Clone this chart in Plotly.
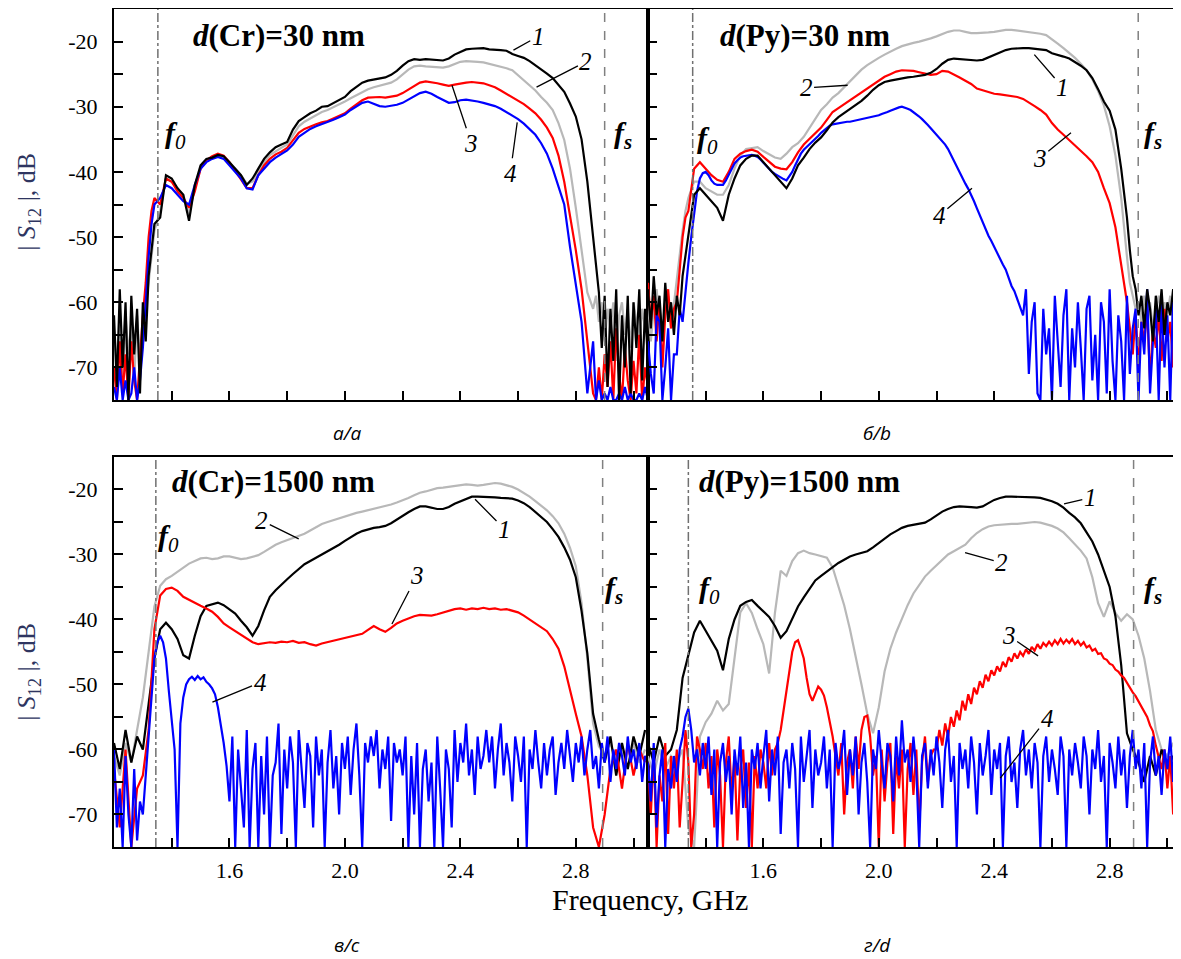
import numpy as np
import plotly.graph_objects as go
from plotly.subplots import make_subplots

# --- frequency sweeps, GHz ---
F_COARSE = np.round(np.arange(1.20, 3.045, 0.02), 2)   # 93 points
F_FINE = np.round(np.arange(1.20, 3.055, 0.01), 2)     # 186 points
# denser at the noisy band edges, coarse in the pass band (110 points)
F_MIX = np.round(np.concatenate([np.arange(1.20, 1.335, 0.01),
                                 np.arange(1.34, 2.865, 0.02),
                                 np.arange(2.87, 3.055, 0.01)]), 2)

# --- panel a: d(Cr)=30 nm, |S12| in dB on F_MIX ---
A1 = [-62, -73, -58, -70, -60, -75, -59, -68, -61, -74, -60, -66, -56, -52,
      -48, -47, -40.5,
      -41, -42.5, -43.5, -47.5, -42, -39, -38, -37.8, -37.4, -37.6,
      -38.5, -39.5, -40.5, -42, -41, -39.5, -38, -37, -36.2, -35.8,
      -35.4, -33.5, -32.2, -31.6, -31, -30.6, -30, -29.9, -29.4, -28.9,
      -28.5, -27.6, -26.9, -26.3, -26, -25.8, -25.6, -25.5, -25.1, -24.5,
      -23.7, -23, -22.7, -22.8, -22.7, -22.8, -22.9, -22.9, -22.6, -22,
      -21.6, -21.2, -21.1, -21, -21, -21.2, -21.2, -21.3, -21.4, -21.9,
      -22.2, -22.5, -23, -23.6, -24.2, -24.9, -25.6, -26.6, -27.7, -29.5,
      -31.5, -35, -41.5, -50,
      -54, -58.5, -67, -59, -73, -61, -69, -58, -75, -62,
      -70, -59, -74, -60, -67, -58, -72, -61, -69]
A2 = [-64, -70, -61, -74, -62, -68, -63, -72, -62, -69, -66, -60, -57, -53,
      -49, -46, -41,
      -41.5, -42.5, -43.5, -46.5, -42.5, -39.5, -38.2, -37.8, -37.5, -37.8,
      -38.8, -39.5, -40.5, -41.8, -41.5, -40, -38.5, -37.4, -36.8, -36.3,
      -35.8, -34.3, -33, -32.3, -31.8, -31.3, -30.8, -30.5, -30.1, -29.6,
      -29.2, -28.7, -28.2, -27.7, -27.3, -27, -26.8, -26.6, -26.3, -25.8,
      -25, -24.3, -23.8, -23.7, -23.8, -23.9, -24, -24, -23.8, -23.4,
      -23.1, -23, -23, -23.1, -23.2, -23.4, -23.6, -23.8, -24.1, -24.4,
      -25.2, -25.9, -26.7, -27.5, -28.5, -29.4, -30.5, -32.5, -35.1, -39.5,
      -45.5, -52, -58.5, -61,
      -59, -63, -60, -66, -61, -64, -60, -69, -62, -60,
      -65, -61, -67, -60, -63, -66, -61, -64, -60]
A3 = [-70, -75, -66, -74, -68, -75, -66, -72, -75, -68, -62, -57, -50, -46,
      -44, -45, -41,
      -41.5, -43, -44, -45.5, -43, -39.5, -38.2, -37.6, -37.2, -37.5,
      -38.5, -39.8, -41, -42.5, -42.5, -40.5, -39, -38, -37.3, -36.9,
      -36.3, -35.2, -34, -33.4, -33, -32.7, -32.4, -32.2, -31.8, -31.4,
      -31, -30.3, -29.6, -29, -28.6, -28.5, -28.5, -28.6, -28.5, -28.3,
      -27.9, -27.4, -26.8, -26.3, -26.1, -26.2, -26.4, -26.6, -26.8, -26.6,
      -26.4, -26.3, -26.2, -26.3, -26.4, -26.7, -27, -27.5, -28, -28.5,
      -29, -29.6, -30.3, -31, -32, -33.2, -34.8, -37.5, -41.5, -46.5,
      -52, -58, -66, -74,
      -75, -70, -75, -68, -73, -66, -75, -64, -71, -75,
      -67, -72, -75, -69, -74, -65, -75, -70, -73]
A4 = [-73, -75, -70, -75, -72, -75, -74, -70, -75, -72, -67, -60, -53, -48,
      -45, -44, -42,
      -42.5, -43.5, -44.5, -45, -42, -39.5, -38.5, -38, -37.7, -38,
      -39, -40, -41, -42.5, -42.7, -40.5, -39.5, -38.5, -37.8, -37.3,
      -36.7, -35.8, -34.6, -34, -33.4, -33, -32.7, -32.4, -32, -31.6,
      -31.2, -30.5, -29.9, -29.4, -29.2, -29.5, -29.9, -30, -29.9, -29.7,
      -29.4, -28.9, -28.3, -27.9, -27.7, -28, -28.5, -29, -29.4, -29.3,
      -29, -28.9, -29, -29.2, -29.4, -29.6, -29.9, -30.3, -30.8, -31.3,
      -31.9, -32.6, -33.4, -34.3, -35.6, -37.2, -39.5, -42.3, -45, -51.5,
      -57, -63, -74, -66,
      -75, -72, -75, -74, -75, -73, -75, -75, -74, -75,
      -73, -75, -74, -75, -75, -74, -75, -73, -75]

# --- panel b: d(Py)=30 nm (curves 1-3 on F_MIX, curve 4 on F_FINE) ---
B1 = [-58, -64, -56, -62, -59, -66, -57, -63, -60, -65, -59, -62, -56, -53,
      -50, -43.5, -42.5,
      -43.5, -44.5, -45.5, -47.5, -43.5, -41, -39, -38, -37.5, -37.5,
      -38.5, -39.5, -40.5, -41.5, -42.5, -41, -39, -37.8, -36.5, -35.5,
      -34.7, -33.6, -32.4, -31.6, -31, -30.4, -29.8, -29.1, -28.3, -27.4,
      -26.7, -26.2, -26, -25.8, -25.6, -25.5, -25.4, -25.3, -25.1, -24.8,
      -24.2, -23.4, -22.8, -22.6, -22.7, -22.8, -22.8, -22.9, -22.8, -22.4,
      -22, -21.6, -21.3, -21.1, -21, -21, -21, -21.1, -21.1, -21.3,
      -21.8, -22, -22.3, -22.6, -23.1, -23.7, -24.4, -25.6, -27.3, -29.2,
      -30.6, -33.5, -39.5, -47,
      -52, -56, -58, -62, -59, -64, -58, -61, -66, -59,
      -63, -58, -65, -60, -62, -58, -64, -60, -63]
B2 = [-60, -66, -61, -58, -63, -65, -61, -59, -64, -60, -57, -53, -49, -46,
      -44, -41.5, -41.5,
      -42.5, -43, -43.5, -43.5, -42, -39.5, -37.5, -36.5, -36.3, -36.2,
      -36.8, -37.3, -37.8, -38, -37.2, -36.2, -35.6, -34.6, -33.2, -31.8,
      -30.5, -29.6, -28.6, -27.9, -27, -26.2, -25.3, -24.3, -23.6, -23,
      -22.5, -22, -21.5, -21.1, -20.7, -20.4, -20.2, -20, -19.8, -19.5,
      -19.2, -18.8, -18.5, -18.3, -18.3, -18.5, -18.7, -18.7, -18.7, -18.6,
      -18.5, -18.3, -18.2, -18.2, -18.3, -18.4, -18.5, -18.6, -18.8, -19,
      -19.6, -20.3, -21, -21.7, -22.5, -23.4, -24.4, -25.8, -27.6, -29.8,
      -33, -37.5, -44, -53,
      -57, -59, -61, -60, -63, -59, -62, -60, -64, -61,
      -59, -63, -60, -62, -59, -64, -61, -60, -62]
B3 = [-57, -63, -59, -66, -60, -70, -62, -58, -64, -61, -60, -55, -50, -47,
      -46, -39.5, -38.5,
      -39.5, -40.5, -41.2, -41.5, -40, -38, -37.2, -36.8, -36.6, -36.9,
      -37.7, -38.5, -39.2, -39.5, -39.6, -38.5, -37, -35.8, -34.9, -34,
      -33.2, -32, -30.8, -30.2, -29.6, -29, -28.4, -27.7, -27.1, -26.5,
      -25.9, -25.4, -25, -24.6, -24.4, -24.4, -24.5, -24.7, -24.9, -25.1,
      -25, -24.5, -24.6, -25, -25.5, -26, -26.5, -27.2, -27.5, -27.8,
      -28, -28.1, -28.2, -28.4, -28.5, -28.8, -29.3, -29.9, -30.5, -31.2,
      -32.5, -33.5, -34.3, -35.1, -35.9, -36.8, -37.6, -38.5, -40, -42.5,
      -44.8, -48.5, -54.5, -60,
      -64, -68, -62, -70, -63, -66, -61, -72, -64, -67,
      -62, -69, -61, -66, -63, -70, -62, -65, -68]
B4 = [-66, -71, -74, -62, -63, -75, -70, -64, -75, -68,
      -68, -61, -63, -58, -54, -50, -46, -43, -41, -40.2,
      -40, -40.5, -41.3, -41.8, -42, -42, -42, -41.3, -40.5, -39.6,
      -38.7, -38.2, -37.8, -37.6, -37.5, -37.4, -37.4, -37.5, -37.7, -38.1,
      -38.6, -39.1, -39.5, -40, -40.3, -40.6, -40.9, -41.1, -41.3, -40.7,
      -40, -39, -38, -37.2, -36.6, -36.2, -35.8, -35.4, -35, -34.5,
      -34, -33.6, -33.2, -32.9, -32.7, -32.6, -32.5, -32.4, -32.4, -32.3,
      -32.3, -32.2, -32.1, -32, -32, -31.9, -31.8, -31.7, -31.5, -31.4,
      -31.3, -31.1, -31, -30.8, -30.6, -30.4, -30.2, -30.1, -30, -30.1,
      -30.3, -30.5, -30.8, -31.1, -31.5, -31.9, -32.3, -32.8, -33.3, -33.8,
      -34.3, -34.7, -35.2, -35.8, -36.5, -37.4, -38.3, -39.2, -40.2, -41,
      -41.8, -42.6, -43.5, -44.5, -45.6, -46.7, -47.8, -48.8, -49.8, -50.6,
      -51.5, -52.5, -53.5, -54.2, -55, -56.3, -57.5, -58.3, -59.5, -60.5,
      -62, -58, -71, -63, -60, -74, -75, -61, -68, -64,
      -75, -59, -66, -73, -62, -58, -75, -64, -70, -60,
      -67, -75, -61, -59, -72, -65, -75, -60, -63, -74,
      -58, -69, -75, -62, -66, -75, -59, -71, -64, -61,
      -75, -63, -68, -58, -74, -66, -61, -75, -60, -70,
      -62, -75, -59, -67, -73, -61]

# --- panel c: d(Cr)=1500 nm (curves 1-3 on F_COARSE, curve 4 on F_FINE) ---
C1 = [-59, -63, -57, -62, -58, -60, -53, -46, -41.5, -40.5,
      -41.5, -43, -45.5, -46, -42.5, -39.5, -37.9, -37.6, -37.4, -37.8,
      -38.4, -39.1, -40.2, -41.2, -42.5, -41, -38.6, -36.5, -35.5, -34.6,
      -33.8, -33, -32.2, -31.5, -31, -30.5, -30, -29.6, -29.1, -28.5,
      -27.9, -27.3, -26.8, -26.4, -26.1, -25.9, -25.8, -25.6, -25.2, -24.6,
      -24.1, -23.5, -23, -22.6, -22.6, -22.8, -23, -23, -22.7, -22.2,
      -21.8, -21.4, -21.1, -21.1, -21.1, -21.2, -21.2, -21.3, -21.3, -21.4,
      -21.7, -22.1, -22.7, -23.5, -24.2, -25, -26.1, -27.3, -28.9, -30.8,
      -33.5, -38.7, -45.2, -54.5, -58.5, -62, -58, -64, -59, -63,
      -58, -61, -57]
C2 = [-61, -64, -59, -62, -57, -52, -45, -38, -34.8, -33.8,
      -33.3, -32.7, -32, -31.4, -31, -30.6, -30.5, -30.7, -30.6, -30.3,
      -30.3, -30.5, -30.7, -30.6, -30.4, -30.1, -29.6, -29, -28.5, -28.1,
      -27.8, -27.5, -27.2, -26.8, -26.3, -25.8, -25.3, -25, -24.7, -24.5,
      -24.2, -23.9, -23.6, -23.4, -23.2, -23, -22.8, -22.6, -22.3, -22,
      -21.7, -21.3, -20.9, -20.5, -20.3, -20, -19.8, -19.7, -19.6, -19.4,
      -19.3, -19.2, -19.3, -19.4, -19.3, -19.1, -19, -19.1, -19.3, -19.6,
      -20, -20.5, -21.1, -21.8, -22.5, -23.2, -24.1, -25.2, -26.8, -29,
      -31.8, -37.5, -46, -56, -59.5, -61, -59, -62, -60, -63,
      -59, -62, -60]
C3 = [-63, -72, -60, -75, -66, -64, -57, -41.5, -36.3, -35.3,
      -35.1, -35.6, -36.5, -37, -37.5, -37.9, -38.3, -38.8, -39.6, -40.6,
      -41.2, -41.8, -42.4, -43, -43.5, -43.8, -43.6, -43.5, -43.6, -43.4,
      -43.5, -43.3, -43.6, -43.5, -43.8, -44, -43.7, -43.5, -43.2, -43,
      -42.9, -42.7, -42.5, -42.2, -41.6, -41, -41.5, -41.9, -41.3, -40.6,
      -40.2, -39.8, -39.5, -39.3, -39.3, -39.4, -39.2, -38.9, -38.6, -38.4,
      -38.3, -38.5, -38.3, -38.4, -38.2, -38.4, -38.3, -38.5, -38.4, -38.6,
      -38.9, -39.4, -40, -40.5, -41.2, -41.8, -43, -44.5, -47.2, -51,
      -54.5, -58, -64, -72, -75, -70, -63, -60, -66, -59,
      -64, -60, -62]
C4 = [-60, -72, -66, -75, -61, -70, -75, -63, -74, -68,
      -70, -64, -57, -51, -46, -43.5, -42.5, -43.5, -46, -51,
      -55, -60, -75, -56, -52, -50, -49.2, -48.8, -49.3, -48.7,
      -49.2, -48.9, -49.6, -50, -50.6, -51.5, -53.5, -56, -59, -62.5,
      -68, -58, -75, -60, -66, -72, -57, -75, -63, -59,
      -75, -61, -70, -58, -75, -64, -62, -56, -73, -60,
      -66, -58, -62, -75, -57, -63, -69, -59, -61, -72,
      -58, -64, -60, -75, -62, -57, -66, -61, -70, -59,
      -63, -58, -67, -60, -56, -64, -75, -59, -62, -58,
      -61, -57, -66, -60, -63, -58, -71, -59, -62, -60,
      -64, -58, -75, -61, -70, -59, -75, -63, -60, -68,
      -62, -75, -58, -66, -75, -60, -63, -72, -57, -65,
      -59, -62, -56, -64, -60, -67, -58, -63, -61, -57,
      -62, -58, -66, -60, -56, -64, -59, -62, -68, -58,
      -61, -65, -58, -75, -60, -63, -57, -62, -66, -59,
      -64, -60, -58, -67, -62, -59, -63, -57, -61, -65,
      -59, -62, -58, -64, -60, -57, -63, -61, -66, -59,
      -62, -58, -65, -60, -63, -59, -61, -64, -58, -62,
      -60, -63, -59, -65, -61, -62]

# --- panel d: d(Py)=1500 nm (curves 1-2 on F_COARSE, curves 3-4 on F_FINE) ---
D1 = [-59, -62, -58, -61, -60, -57, -49, -45.5, -42, -40.2,
      -41.8, -43.3, -44.8, -47.8, -43, -40, -37.9, -37.3, -37, -37.9,
      -38.8, -39.6, -41, -42.8, -41.8, -39.8, -38, -36.6, -35.2, -34,
      -33.3, -32.6, -31.9, -31.3, -30.8, -30.3, -30, -29.8, -29.5, -28.9,
      -28.2, -27.5, -26.9, -26.4, -25.9, -25.6, -25.4, -25.2, -25.1, -24.6,
      -24, -23.4, -23, -22.7, -22.6, -22.6, -22.7, -22.8, -22.6, -22.1,
      -21.6, -21.3, -21.1, -21.1, -21.1, -21.2, -21.2, -21.2, -21.3, -21.5,
      -21.8, -22.2, -22.8, -23.6, -24.3, -25.2, -26.5, -28, -30, -32.5,
      -35, -39.5, -47, -57.5, -60, -62, -65, -61, -64, -60,
      -63, -61, -64]
D2 = [-61, -64, -60, -63, -61, -62, -60, -72, -75, -58,
      -55.8, -54.5, -52.5, -54, -53, -46, -38.9, -37.5, -39, -41.5,
      -43.8, -48.3, -39, -32.5, -33.3, -31, -29.8, -29.4, -29.8, -30,
      -30.2, -30.5, -32, -35, -37.8, -41.5, -45.5, -50, -54.5, -57.5,
      -53.5, -48, -44.5, -42, -39.9, -37.8, -36, -34.6, -33.4, -32.5,
      -31.7, -30.8, -30, -29.5, -29, -28.5, -27.5, -26.7, -26.1, -25.7,
      -25.5, -25.4, -25.4, -25.3, -25.3, -25.2, -25.1, -25, -25.1, -25.3,
      -25.6, -26, -26.6, -27.5, -28.4, -29.4, -30.6, -33.5, -37.5, -39.6,
      -37.2, -39, -40.2, -39.2, -40, -42.5, -46, -51, -57, -60,
      -61, -59, -62]
D3 = [-62, -70, -60, -75, -64, -68, -59, -73, -61, -66,
      -60, -72, -65, -57, -62, -75, -70, -58, -60, -63,
      -59, -66, -61, -72, -60, -64, -75, -62, -58, -67,
      -61, -74, -63, -60, -69, -62, -75, -61, -66, -60,
      -62, -66, -59, -64, -60, -59, -57, -54, -51.5, -48,
      -45, -43.5, -43.2, -44.5, -46, -49, -51.5, -52.5, -51.5, -50.3,
      -50.8, -51.7, -53.5, -55.8, -58, -61, -64, -59, -70, -62,
      -60, -66, -58, -63, -57, -55, -54.8, -58, -64, -61,
      -75, -60, -68, -62, -59, -73, -61, -66, -60, -75,
      -63, -59, -67, -60, -72, -62, -58, -65, -61, -60,
      -60, -57, -59.4, -56, -58, -55, -56.5, -54, -55.5, -52.5,
      -54, -51.5, -53, -50.5, -51.5, -49.5, -50.5, -48.5, -49.5, -47.8,
      -48.6, -47.2, -48, -46.5, -47.3, -45.8, -46.5, -45.2, -46, -45,
      -45.6, -44.6, -45.3, -44.2, -44.8, -43.8, -44.5, -43.6, -44.1, -43.4,
      -44, -43.2, -43.8, -43, -43.7, -43.1, -43.6, -43, -43.8, -43.3,
      -44, -43.5, -44.3, -44, -44.8, -44.5, -45.3, -45.2, -46, -46.2,
      -46.8, -47, -47.7, -48, -48.6, -49, -49.8, -50.4, -51.2, -51.8,
      -52.6, -53.3, -54, -55, -56.3, -57.2, -59.4, -61, -63, -60,
      -66, -61, -70, -63, -65, -60]
D4 = [-62, -68, -59, -72, -64, -60, -75, -63, -66, -61,
      -65, -60, -58, -55, -53.7, -57, -62, -60, -64, -59,
      -63, -58, -67, -60, -75, -62, -59, -65, -61, -70,
      -60, -64, -58, -69, -62, -75, -60, -63, -59, -66,
      -61, -57, -68, -60, -64, -58, -73, -62, -60, -66,
      -59, -63, -75, -58, -65, -61, -57, -69, -60, -64,
      -62, -58, -66, -60, -75, -59, -63, -61, -57, -67,
      -60, -64, -58, -70, -62, -59, -65, -75, -60, -63,
      -57, -62, -66, -59, -61, -68, -58, -64, -55.5, -62,
      -60, -65, -58, -63, -75, -61, -59, -66, -60, -64,
      -58, -62, -69, -60, -57, -65, -61, -75, -59, -63,
      -60, -66, -58, -62, -70, -59, -64, -61, -57, -67,
      -60, -63, -59, -75, -61, -58, -65, -62, -69, -60,
      -57, -64, -60, -66, -59, -62, -75, -61, -58, -65,
      -60, -63, -67, -58, -61, -75, -60, -64, -59, -62,
      -66, -58, -61, -70, -60, -63, -57, -65, -61, -75,
      -59, -62, -66, -58, -64, -60, -69, -61, -57, -63,
      -60, -66, -59, -75, -62, -58, -64, -61, -67, -60,
      -63, -58, -65, -60, -62, -59]

# characteristic frequencies f0 / fs per panel (GHz)
F0 = [1.352, 1.355, 1.345, 1.340]
FS = [2.900, 2.899, 2.893, 2.883]

TITLES = ["<b><i>d</i>(Cr)=30 nm</b>", "<b><i>d</i>(Py)=30 nm</b>",
          "<b><i>d</i>(Cr)=1500 nm</b>", "<b><i>d</i>(Py)=1500 nm</b>"]
CAPTIONS = ["<i>а/a</i>", "<i>б/b</i>", "<i>в/c</i>", "<i>г/d</i>"]

COLORS = {1: "#000000", 2: "#b8b8b8", 3: "#ff0000", 4: "#0000ff"}
SERIF = "Liberation Serif"

# (row, col, [(curve no, x, y), ...] in drawing order)
panels = [
    (1, 1, [(2, F_MIX, A2), (3, F_MIX, A3), (4, F_MIX, A4), (1, F_MIX, A1)]),
    (1, 2, [(2, F_MIX, B2), (3, F_MIX, B3), (4, F_FINE, B4), (1, F_MIX, B1)]),
    (2, 1, [(2, F_COARSE, C2), (1, F_COARSE, C1), (3, F_COARSE, C3), (4, F_FINE, C4)]),
    (2, 2, [(2, F_COARSE, D2), (1, F_COARSE, D1), (3, F_FINE, D3), (4, F_FINE, D4)]),
]

# curve number labels: (text x, text y, tip x, tip y)
NUM_LABELS = [
    {1: (2.670, -19.2, 2.584, -21.3), 2: (2.835, -23.1, 2.664, -27.0),
     3: (2.438, -35.6, 2.371, -26.7), 4: (2.573, -40.2, 2.597, -32.4)},
    {1: (2.637, -27.0, 2.539, -22.0), 2: (1.748, -27.1, 1.892, -26.7),
     3: (2.558, -37.9, 2.666, -34.0), 4: (2.210, -46.7, 2.323, -42.5)},
    {1: (2.553, -26.1, 2.451, -21.5), 2: (1.712, -24.8, 1.840, -27.6),
     3: (2.249, -33.3, 2.163, -40.7), 4: (1.706, -49.7, 1.541, -52.7)},
    {1: (2.733, -21.3, 2.642, -22.2), 2: (2.426, -31.3, 2.299, -29.7),
     3: (2.450, -42.5, 2.552, -45.6), 4: (2.583, -55.2, 2.421, -64.4)},
]
TITLE_POS = [(1.467, -19.0), (1.443, -19.0), (1.394, -18.8), (1.370, -18.8)]
F0_LABEL = [(1.370, -34.3), (1.363, -35.1), (1.346, -27.4), (1.370, -35.4)]
FS_LABEL = [(2.926, -34.3), (2.912, -34.3), (2.894, -35.4), (2.912, -35.4)]

fig = make_subplots(rows=2, cols=2, horizontal_spacing=0, vertical_spacing=0.07)

for k, (r, c, curves) in enumerate(panels):
    for num, fx, vals in curves:
        assert len(fx) == len(vals), (k, num, len(fx), len(vals))
        fig.add_trace(go.Scatter(x=fx, y=vals, mode="lines",
                                 line=dict(color=COLORS[num], width=2.2),
                                 showlegend=False, hoverinfo="skip"),
                      row=r, col=c)

# page body adds an 8 px offset, so the figure is laid out 8 px up/left;
# the right-hand panels run past the window edge like in the source
x_dom = [[0, 0.4967], [0.4967, 1.0]]
x_rng = [[1.2, 3.05], [1.2, 3.075]]
y_dom = {1: [0.5334, 1.0], 2: [0.0, 0.4654]}

for k, (r, c, _) in enumerate(panels):
    xa = "xaxis" if k == 0 else f"xaxis{k + 1}"
    ya = "yaxis" if k == 0 else f"yaxis{k + 1}"
    fig.layout[xa].update(
        domain=x_dom[c - 1], range=x_rng[c - 1],
        showline=True, mirror=True, linecolor="black", linewidth=2,
        ticks="inside", ticklen=9, tickwidth=1.5, tickcolor="black",
        tickvals=[1.6, 2.0, 2.4, 2.8], ticktext=["1.6", "2.0", "2.4", "2.8"],
        minor=dict(tickvals=[1.4, 1.8, 2.2, 2.6, 3.0], ticks="inside",
                   ticklen=9, tickwidth=1.5, tickcolor="black"),
        showgrid=False, zeroline=False, showticklabels=(r == 2),
        tickfont=dict(family=SERIF, size=22, color="black"),
        ticklabelstandoff=3,
    )
    fig.layout[ya].update(
        domain=y_dom[r], range=[-75, -15],
        showline=True, mirror=True, linecolor="black", linewidth=2,
        ticks="inside", ticklen=9, tickwidth=1.5, tickcolor="black",
        tickvals=[-70, -60, -50, -40, -30, -20],
        ticktext=["-70", "-60", "-50", "-40", "-30", "-20"],
        minor=dict(tickvals=[-65, -55, -45, -35, -25], ticks="inside",
                   ticklen=9, tickwidth=1.5, tickcolor="black"),
        showgrid=False, zeroline=False, showticklabels=(c == 1),
        tickfont=dict(family=SERIF, size=22, color="black"),
        ticklabelstandoff=10,
    )

    xr = "x" if k == 0 else f"x{k + 1}"
    yr = "y" if k == 0 else f"y{k + 1}"

    # f0 / fs markers
    fig.add_shape(type="line", x0=F0[k], x1=F0[k], y0=0, y1=1, xref=xr, yref=f"{yr} domain",
                  line=dict(color="#707070", width=1.5, dash="dashdot"))
    fig.add_shape(type="line", x0=FS[k], x1=FS[k], y0=0, y1=1, xref=xr, yref=f"{yr} domain",
                  line=dict(color="#808080", width=1.5, dash="dash"))
    fig.add_annotation(x=F0_LABEL[k][0], y=F0_LABEL[k][1], xref=xr, yref=yr,
                       text="<b><i>f</i></b><i><sub>0</sub></i>", showarrow=False,
                       xanchor="left", yanchor="middle",
                       font=dict(family=SERIF, size=30, color="black"))
    fig.add_annotation(x=FS_LABEL[k][0], y=FS_LABEL[k][1], xref=xr, yref=yr,
                       text="<b><i>f</i></b><b><i><sub>s</sub></i></b>", showarrow=False,
                       xanchor="left", yanchor="middle",
                       font=dict(family=SERIF, size=30, color="black"))

    # panel title
    fig.add_annotation(x=TITLE_POS[k][0], y=TITLE_POS[k][1], xref=xr, yref=yr,
                       text=TITLES[k], showarrow=False, xanchor="left", yanchor="middle",
                       font=dict(family=SERIF, size=31, color="black"))

    # curve numbers with leader lines
    for num, (tx, ty, px, py) in NUM_LABELS[k].items():
        fig.add_annotation(x=px, y=py, xref=xr, yref=yr, ax=tx, ay=ty, axref=xr, ayref=yr,
                           text=f"<i>{num}</i>", showarrow=True, arrowhead=0,
                           arrowwidth=1.3, arrowcolor="black",
                           font=dict(family=SERIF, size=25, color="black"))

# panel captions
cap_pos = [(0.2167, 0.494), (0.7098, 0.494), (0.2167, -0.117), (0.7098, -0.117)]
for (cx, cy), txt in zip(cap_pos, CAPTIONS):
    fig.add_annotation(x=cx, y=cy, xref="paper", yref="paper", text=txt, showarrow=False,
                       xanchor="center", yanchor="middle",
                       font=dict(family="Open Sans", size=19, color="black"))

# axis titles
ylab = "| <i>S</i><sub>12</sub> |, dB"
for cy in (0.77, 0.209):
    fig.add_annotation(x=-0.08, y=cy, xref="paper", yref="paper", text=ylab,
                       textangle=-90, showarrow=False, xanchor="center", yanchor="middle",
                       font=dict(family=SERIF, size=26, color="#2e3560"))
fig.add_annotation(x=0.4986, y=-0.0632, xref="paper", yref="paper", text="Frequency, GHz",
                   showarrow=False, xanchor="center", yanchor="middle",
                   font=dict(family=SERIF, size=30, color="black"))

fig.update_layout(
    width=1181, height=959,
    margin=dict(l=106, r=0, t=1, b=120, autoexpand=False),
    paper_bgcolor="white", plot_bgcolor="white",
    font=dict(family=SERIF, color="black"),
)

fig.write_html("out.html")
